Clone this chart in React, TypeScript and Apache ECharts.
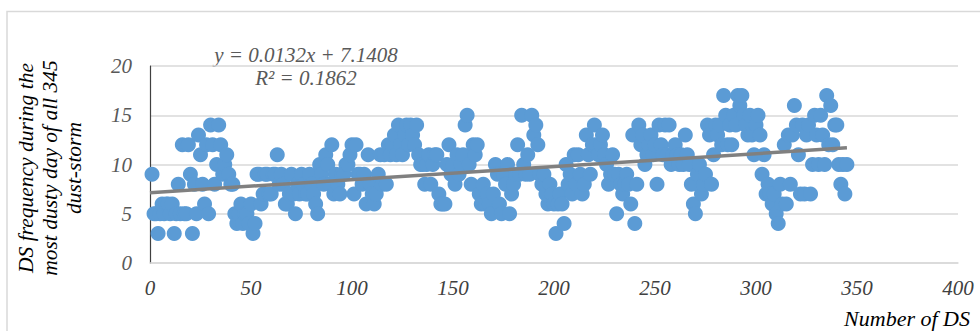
import React, { useEffect, useRef } from "react";
import * as echarts from "echarts";

// DS frequency for each of the 345 dust storms (x = 1..345)
const dsFrequency: number[] = [
  9, 5, 5, 3, 5, 6, 5, 6, 6, 5,
  6, 3, 5, 8, 5, 12, 5, 5, 12, 9,
  3, 8, 5, 13, 11, 8, 6, 12, 5, 14,
  12, 8, 10, 14, 12, 9, 10, 11, 9, 8,
  8, 5, 4, 5, 6, 4, 5, 5, 4, 6,
  3, 4, 9, 9, 6, 7, 9, 9, 7, 7,
  9, 9, 11, 8, 9, 8, 6, 6, 7, 9,
  7, 5, 8, 7, 9, 8, 7, 7, 9, 8,
  7, 6, 5, 10, 9, 8, 11, 10, 8, 12,
  7, 9, 8, 7, 9, 9, 10, 10, 11, 12,
  7, 12, 9, 9, 8, 9, 6, 11, 8, 7,
  6, 7, 9, 11, 8, 11, 8, 12, 11, 12,
  13, 11, 14, 12, 11, 13, 14, 12, 14, 13,
  12, 14, 11, 10, 10, 8, 10, 11, 8, 10,
  11, 11, 7, 6, 6, 6, 10, 12, 9, 10,
  8, 11, 9, 10, 11, 14, 15, 10, 8, 12,
  11, 12, 7, 6, 8, 6, 7, 6, 5, 7,
  10, 9, 6, 5, 9, 8, 10, 5, 7, 8,
  9, 12, 9, 15, 10, 9, 11, 9, 15, 13,
  14, 12, 9, 8, 9, 7, 6, 8, 7, 6,
  3, 6, 7, 6, 4, 10, 8, 9, 7, 11,
  8, 11, 9, 7, 8, 13, 11, 9, 12, 14,
  12, 11, 12, 13, 11, 10, 8, 9, 11, 9,
  5, 9, 8, 7, 8, 9, 8, 6, 13, 4,
  8, 14, 12, 13, 10, 11, 12, 13, 11, 12,
  8, 14, 12, 11, 14, 11, 14, 10, 11, 12,
  11, 10, 11, 10, 13, 11, 10, 8, 6, 5,
  9, 10, 7, 8, 9, 14, 13, 8, 11, 14,
  13, 14, 12, 17, 15, 12, 14, 12, 15, 14,
  17, 16, 17, 15, 14, 13, 15, 13, 11, 14,
  15, 13, 9, 11, 7, 8, 7, 6, 7, 5,
  4, 8, 6, 12, 6, 13, 8, 13, 16, 14,
  11, 7, 14, 7, 13, 14, 7, 10, 15, 13,
  10, 15, 13, 10, 17, 12, 16, 12, 14, 14,
  10, 8, 10, 7, 10,
];

// Linear trendline reported on the chart
const trendSlope = 0.0132;
const trendIntercept = 7.1408;
const trendRange: number[] = [0, 345];

const xTicks: number[] = [0, 50, 100, 150, 200, 250, 300, 350, 400];
const yTicks: number[] = [0, 5, 10, 15, 20];

const equationText = "y = 0.0132x + 7.1408";
const r2Text = "R² = 0.1862";
const yTitle = "DS frequency during the\nmost dusty day of all 345\ndust-storm";
const xTitle = "Number of DS";

const FONT = "Liberation Serif";

export default function App() {
  const ref = useRef<HTMLDivElement>(null);

  useEffect(() => {
    if (!ref.current) return;
    const chart = echarts.init(ref.current, null, { renderer: "svg" });

    const points = dsFrequency.map((v, i) => [i + 1, v]);
    const trend = trendRange.map((x) => [x, trendSlope * x + trendIntercept]);

    const textStyle = (size: number, fill: string, align: string) => ({
      fontFamily: FONT,
      fontStyle: "italic",
      fontSize: size,
      fill,
      textAlign: align,
      textVerticalAlign: "middle",
    });

    chart.setOption({
      animation: false,
      backgroundColor: "#ffffff",
      grid: { left: 150, right: 22, top: 66, bottom: 68, containLabel: false },
      xAxis: {
        type: "value",
        min: xTicks[0],
        max: xTicks[xTicks.length - 1],
        interval: 50,
        axisLine: { show: true, lineStyle: { color: "#d9d9d9", width: 1.5 } },
        axisTick: { show: false },
        splitLine: { show: false },
        axisLabel: {
          color: "#404040",
          fontFamily: FONT,
          fontStyle: "italic",
          fontSize: 21,
          margin: 14,
        },
      },
      yAxis: {
        type: "value",
        min: yTicks[0],
        max: yTicks[yTicks.length - 1],
        interval: 5,
        axisLine: { show: true, lineStyle: { color: "#404040", width: 1.2 } },
        axisTick: { show: false },
        splitLine: { show: true, lineStyle: { color: "#d9d9d9", width: 1.5 } },
        axisLabel: {
          color: "#595959",
          fontFamily: FONT,
          fontStyle: "italic",
          fontSize: 21,
          margin: 18,
        },
      },
      series: [
        {
          type: "scatter",
          data: points,
          symbol: "circle",
          symbolSize: 15,
          itemStyle: { color: "#5b9bd5", opacity: 1 },
          z: 2,
        },
        {
          type: "line",
          data: trend,
          symbol: "none",
          lineStyle: { color: "#808080", width: 3.5 },
          z: 3,
        },
      ],
      graphic: [
        {
          type: "rect",
          shape: { x: 7, y: 11.5, width: 1000, height: 400 },
          style: { fill: "none", stroke: "#d9d9d9", lineWidth: 1.5 },
          silent: true,
        },
        {
          type: "text",
          x: 306,
          y: 55,
          style: { text: equationText, ...textStyle(21, "#595959", "center") },
        },
        {
          type: "text",
          x: 306,
          y: 78,
          style: { text: r2Text, ...textStyle(21, "#595959", "center") },
        },
        {
          type: "text",
          x: 50,
          y: 168,
          rotation: Math.PI / 2,
          style: {
            text: yTitle,
            ...textStyle(21.5, "#000000", "center"),
            lineHeight: 24,
          },
        },
        {
          type: "text",
          x: 970,
          y: 318,
          style: { text: xTitle, ...textStyle(22, "#000000", "right") },
        },
      ],
    });

    return () => chart.dispose();
  }, []);

  return (
    <div
      ref={ref}
      style={{ position: "absolute", left: 0, top: 0, width: 980, height: 331 }}
    />
  );
}
